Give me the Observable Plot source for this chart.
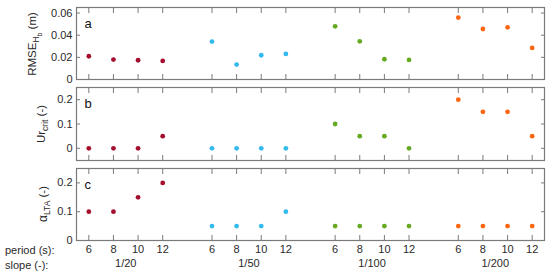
<!DOCTYPE html>
<html><head><meta charset="utf-8">
<script src="https://cdn.jsdelivr.net/npm/d3@7"></script>
<script src="https://cdn.jsdelivr.net/npm/@observablehq/plot@0.6"></script>
<style>
body{margin:0;background:#fff;}
#chart{position:relative;width:550px;height:278px;overflow:hidden;font-family:"Liberation Sans",Arial,sans-serif;}
#chart svg{position:absolute;left:0;overflow:visible;background:transparent;}
</style>
</head><body><div id="chart"></div>
<script>
const slopes = ["1/20","1/50","1/100","1/200"];
const periods = [6,8,10,12];
const slopeColors = ["#a50f2d","#33bbee","#66aa22","#ff6611"];
const rmseHb = [0.021,0.018,0.0174,0.0168, 0.0342,0.0135,0.0219,0.0231, 0.048,0.0345,0.0183,0.0177, 0.0559,0.0456,0.0471,0.0285];
const urCrit = [0,0,0,0.05, 0,0,0,0, 0.1,0.05,0.05,0, 0.2,0.15,0.15,0.05];
const alphaLTA = [0.1,0.1,0.15,0.2, 0.05,0.05,0.05,0.1, 0.05,0.05,0.05,0.05, 0.05,0.05,0.05,0.05];
const ticksA = [0,0.02,0.04,0.06];
const ticksB = [0,0.1,0.2];
const ticksC = [0,0.1,0.2];
const domainA = [0,0.065], domainB = [-0.05,0.25], domainC = [0,0.25];
const letters = ["a","b","c"];

const chart = document.getElementById("chart");
const AX = "#7a7a7a";
const TXT = "#2a2a2a";

function panel(values, domain, yticks, fmt, letter, {top, height, mt, mb, bottom}) {
  const rows = values.map((v,k)=>({pos: Math.floor(k/4)*5 + k%4, slope: slopes[Math.floor(k/4)], v}));
  const xt = rows.map(d=>d.pos);
  const marks = [
    Plot.frame({stroke: AX, strokeWidth: 1.2}),
    Plot.axisY(yticks, {anchor:"left", tickSize:4, insetLeft:4, stroke: AX, fill:"none", label:null}),
    Plot.axisY(yticks, {anchor:"right", tickSize:4, insetRight:4, stroke: AX, fill:"none", label:null}),
    Plot.axisY(yticks, {anchor:"left", tickSize:0, tickPadding:4, tickFormat: fmt, fill:TXT, label:null}),
    Plot.axisX(xt, {anchor:"top", tickSize:5, insetTop:5, stroke: AX, fill:"none", label:null}),
    Plot.axisX(xt, {anchor:"bottom", tickSize:5, insetBottom:5, stroke: AX, fill:"none", label:null}),
    Plot.dot(rows, {x:"pos", y:"v", fill:"slope", r:2.4}),
    Plot.text([letter], {frameAnchor:"top-left", dx:8, dy:11, fontSize:13, fill:"#111"})
  ];
  if (bottom) {
    marks.push(Plot.axisX(xt, {anchor:"bottom", tickSize:0, tickPadding:5, tickFormat: i => String(periods[i%5]), fill:TXT, label:null}));
    marks.push(Plot.text(slopes, {x:(d,i)=>i*5+1.5, frameAnchor:"bottom", dy:26, fill:TXT}));
  }
  const svg = Plot.plot({
    width:550, height, marginLeft:76, marginRight:6, marginTop:mt, marginBottom:mb,
    style:{fontFamily:'"Liberation Sans",Arial,sans-serif', fontSize:"11px", background:"transparent", overflow:"visible"},
    x:{type:"linear", domain:[-0.5,18.5], axis:null},
    y:{domain, axis:null},
    color:{domain:slopes, range:slopeColors},
    marks
  });
  svg.style.top = top + "px";
  chart.appendChild(svg);
}
const f2 = d => d===0 ? "0" : d.toFixed(2);
const f1 = d => d===0 ? "0" : d.toFixed(1);
panel(rmseHb, domainA, ticksA, f2, letters[0], {top:0, height:84, mt:7, mb:5});
panel(urCrit, domainB, ticksB, f1, letters[1], {top:80, height:84, mt:7, mb:4});
panel(alphaLTA, domainC, ticksC, f1, letters[2], {top:161, height:117, mt:7, mb:38, bottom:true});

// overlay labels
const ov = d3.select(chart).append("svg").attr("width",550).attr("height",278).style("top","0px")
  .style("font-family",'"Liberation Sans",Arial,sans-serif').style("font-size","11px").attr("fill",TXT);
function ylab(x, y, parts) {
  const t = ov.append("text").attr("transform",`translate(${x},${y}) rotate(-90)`).attr("text-anchor","middle");
  parts.forEach(p => t.append("tspan").text(p.t).attr("dy", p.dy||0).style("font-size", p.s||"11.5px"));
}
ylab(36, 44, [{t:"RMSE"},{t:"H",dy:3,s:"8.5px"},{t:"b",dy:2.5,s:"7px"},{t:"\u00a0(m)",dy:-5.5}]);
ylab(45, 124, [{t:"Ur"},{t:"crit",dy:3,s:"8.5px"},{t:"\u00a0(-)",dy:-3}]);
ylab(47, 204, [{t:"\u03b1",s:"12px"},{t:"LTA",dy:3,s:"8.5px"},{t:"\u00a0(-)",dy:-3}]);
ov.append("text").attr("x",5).attr("y",254).text("period (s):");
ov.append("text").attr("x",5).attr("y",269).text("slope (-):");
</script>
</body></html>
